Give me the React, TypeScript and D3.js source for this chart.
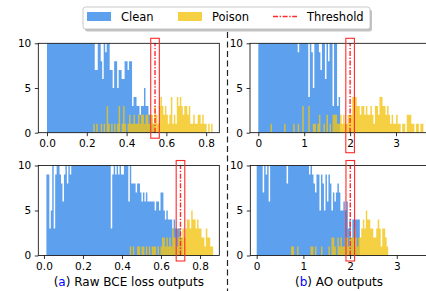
import { useEffect, useRef } from 'react'
import * as d3 from 'd3'

// histogram bin counts; the y axis is clipped at 10
const rawBin = 0.0075
const aoBin = 0.033
const aoBin2 = 0.032

const rawTopClean = [
  24, 31, 28, 35, 30, 27, 33, 29, 26, 31, 28, 25, 30, 27, 24, 29, 26, 23, 27, 25, 22, 24, 21, 19, 22, 20, 18, 17, 19, 16, 14, 13,
  7, 7, 11, 12, 8, 6, 11, 9, 11, 10, 7, 7, 5, 8, 8, 5, 7, 7, 6, 6, 8, 8, 7, 8, 8,
  3, 4, 4, 3, 3, 2, 3, 3, 5, 3, 3, 2, 2, 1, 1,
]
const rawTopPoison = [
  1, 0, 1, 0, 0, 1, 0, 1, 0, 3,
  1, 0, 1, 0, 1, 0, 1, 3, 0, 1,
  3, 1, 0, 1, 2, 1, 1, 2, 1, 1,
  2, 1, 2, 2, 1, 2, 2, 1, 2, 2,
  1, 3, 2, 1, 3, 4, 3, 2, 3, 2,
  1, 2, 4, 1, 2, 1, 4, 3, 4, 3,
  2, 3, 3, 2, 3, 1, 1, 2, 1, 1,
  2, 2, 1, 2, 1, 1, 0, 1, 0, 1,
]
const aoTopClean = [
  30, 42, 55, 61, 70, 66, 74, 79, 72, 68, 75, 70, 64, 66, 59, 62, 55, 51, 48, 44, 40, 37, 33, 30, 27,
  12, 9, 12, 14, 11, 13, 12, 11, 4, 11, 9, 5, 12, 11, 13, 9, 7, 11, 12, 6, 11, 8, 12, 11, 3, 12, 11, 3, 4,
]
const aoTopPoison = [
  1, 0, 0, 0, 0, 0, 0, 0, 0, 1,
  0, 0, 0, 0, 0, 1, 0, 0, 1, 0,
  0, 3, 0, 0, 0, 3, 0, 0,
  1, 1, 0, 1, 2, 0, 0, 1, 0, 2,
  0, 1, 0, 2, 2, 2, 1, 1, 2, 1,
  2, 1, 1, 2, 2, 2, 4, 4, 4, 3,
  3, 2, 3, 3, 2, 3, 2, 2, 3, 2,
  1, 3, 3, 2, 4, 4, 3, 3, 2, 3,
  2, 1, 2, 1, 1, 2, 1, 1, 0, 1,
  1, 0, 2, 2, 2, 1, 1, 0, 1, 1,
  0, 1, 1,
]
const rawBottomClean = [
  9, 9, 3, 5, 11, 3, 9, 12, 10, 9, 8, 6, 9, 11, 8, 12, 9, 11,
  13, 15, 14, 17, 16, 18, 15, 19, 17, 16, 18, 20, 17, 19, 16, 18, 17, 15, 16, 14, 15, 13, 14, 12, 13, 12,
  3, 9, 11, 9, 10, 9, 11, 9, 9, 11,
  10, 12, 6, 10, 8, 8, 8, 7, 8, 8,
  7, 6, 7, 6, 7, 6, 6, 6, 6, 6,
  5, 6, 6, 5, 7, 7, 5, 4, 5, 4,
  4, 4, 3, 4, 3, 3, 3, 3, 2,
]
const rawBottomPoison = [
  0, 1, 0, 1, 0, 0, 1, 1, 0, 1,
  1, 0, 1, 0, 1, 0, 1, 1, 1, 0,
  1, 0, 1, 2, 2, 1, 2, 1, 2, 1,
  3, 2, 2, 1, 2, 3, 2, 3, 2, 3,
  4, 4, 3, 5, 4, 4, 3, 4, 3, 3,
  2, 2, 1, 3, 2, 2, 1, 1,
]
const aoBottomClean = [
  34, 29, 31, 26, 7, 11, 9, 12, 6, 11,
  14, 12, 15, 13, 16, 14, 13, 15, 12, 14,
  8, 11, 13, 15, 12, 14, 16, 13, 12, 14, 13, 11, 12, 13, 11,
  9, 11, 9, 8, 7, 9, 9, 5, 9, 8,
  5, 9, 6, 9, 8, 5, 7, 6, 7, 8,
  7, 5, 5, 6, 5, 6, 3, 4, 2, 4,
  4, 4, 4, 4,
]
const aoBottomPoison = [
  1, 1, 0, 0, 1, 0, 0, 0, 0, 0,
  0, 0, 0, 1, 1, 0, 1, 0, 0, 0,
  1, 0, 0, 0, 0, 1, 0, 2, 2, 1,
  0, 2, 1, 2, 1, 1, 2, 2, 1, 2,
  2, 2, 3, 2, 1, 2, 2, 3, 4, 3,
  5, 4, 4, 3, 3, 2, 2, 3, 4, 3,
  1, 3, 3, 2, 1,
]

const rawTicks = [0, 0.2, 0.4, 0.6, 0.8]
const aoTicks = [0, 1, 2, 3]
const yTicks = [0, 5, 10]
const thresholds = [0.543, 2.0, 0.70, 2.004]
const legendLabels = ['Clean', 'Poison', 'Threshold']

const CLEAN = '#5da0ed'
const POISON = '#f2c413'
const RED = '#ff2b2b'
const FONT = 'DejaVu Sans, sans-serif'

const panels = [
  { clean: rawTopClean, cleanStart: 0, poison: rawTopPoison, poisonStart: 0.2325, bin: rawBin,
    ticks: rawTicks, fmt: d3.format('.1f'), frame: [38.3, 219.3, 43.3, 132.7], domain: [-0.0437, 0.866], drop: 5.5 },
  { clean: aoTopClean, cleanStart: 0, poison: aoTopPoison, poisonStart: 0.264, bin: aoBin,
    ticks: aoTicks, fmt: d3.format('d'), frame: [250, 432, 43.3, 132.7], domain: [-0.181, 3.784], drop: 20 },
  { clean: rawBottomClean, cleanStart: 0.0125, poison: rawBottomPoison, poisonStart: 0.4325, bin: rawBin,
    ticks: rawTicks, fmt: d3.format('.1f'), frame: [38.3, 219.3, 165.5, 255.5], domain: [-0.029, 0.899], drop: 5.5 },
  { clean: aoBottomClean, cleanStart: 0, poison: aoBottomPoison, poisonStart: 0.736, bin: aoBin2,
    ticks: aoTicks, fmt: d3.format('d'), frame: [250.3, 432, 165.5, 255.5], domain: [-0.137, 3.754], drop: 5.5 },
]

export default function App() {
  const svgRef = useRef<SVGSVGElement>(null)

  useEffect(() => {
    if (!svgRef.current) return
    const svg = d3.select(svgRef.current)
    svg.selectAll('*').remove()

    panels.forEach((p, idx) => {
      const [left, right, top, bottom] = p.frame
      const x = d3.scaleLinear().domain(p.domain).range([left, right])
      const y = d3.scaleLinear().domain([0, 10]).range([bottom, top])
      const g = svg.append('g')

      const clipId = `clip${idx}`
      svg.append('clipPath').attr('id', clipId)
        .append('rect').attr('x', left).attr('y', top).attr('width', right - left).attr('height', bottom - top)

      const area = d3.area<[number, number]>()
        .x(d => x(d[0]))
        .y0(y(0))
        .y1(d => y(Math.min(d[1], 10)))
        .curve(d3.curveStepAfter)

      const toPoints = (counts: number[], start: number): [number, number][] => {
        const pts = counts.map((c, i) => [start + i * p.bin, c] as [number, number])
        pts.push([start + counts.length * p.bin, counts[counts.length - 1]])
        return pts
      }

      const hist = g.append('g').attr('clip-path', `url(#${clipId})`)
      hist.append('path').datum(toPoints(p.clean, p.cleanStart)).attr('fill', CLEAN).attr('d', area)
      hist.append('path').datum(toPoints(p.poison, p.poisonStart)).attr('fill', POISON)
        .attr('fill-opacity', 0.8).attr('d', area)

      const tx = x(thresholds[idx])
      g.append('line')
        .attr('x1', tx).attr('x2', tx).attr('y1', y(0)).attr('y2', y(10))
        .attr('stroke', RED).attr('stroke-width', 1.4).attr('stroke-dasharray', '5,1.6,1.4,1.6')

      // frame
      g.append('rect')
        .attr('x', left).attr('y', top).attr('width', right - left).attr('height', bottom - top)
        .attr('fill', 'none').attr('stroke', '#000').attr('stroke-width', 0.8)

      const xAxis = g.append('g').attr('transform', `translate(0,${bottom})`)
        .call(d3.axisBottom(x).tickValues(p.ticks).tickSize(3.5).tickPadding(3.5)
          .tickFormat(d => p.fmt(d as number)))
      const yAxis = g.append('g').attr('transform', `translate(${left},0)`)
        .call(d3.axisLeft(y).tickValues(yTicks).tickSize(3.5).tickPadding(3.5))
      for (const ax of [xAxis, yAxis]) {
        ax.select('.domain').remove()
        ax.selectAll('line').attr('stroke', '#000').attr('stroke-width', 0.8)
        ax.selectAll('text').attr('fill', '#000').style('font-family', FONT).style('font-size', '10.5px')
      }

      // highlight box around the threshold
      g.append('rect')
        .attr('x', tx - 4.3).attr('y', top - 5).attr('width', 8.6).attr('height', bottom - top + 5 + p.drop)
        .attr('fill', 'none').attr('stroke', RED).attr('stroke-width', 1.1)
    })

    // dashed separator between columns
    svg.append('line')
      .attr('x1', 227.5).attr('x2', 227.5).attr('y1', 32).attr('y2', 291)
      .attr('stroke', '#222').attr('stroke-width', 1.2).attr('stroke-dasharray', '6,3.5')

    // legend
    const lg = svg.append('g')
    lg.append('rect').attr('x', 85).attr('y', 9.5).attr('width', 287).attr('height', 22).attr('rx', 2.5)
      .attr('fill', '#888').attr('opacity', 0.5)
    lg.append('rect').attr('x', 83).attr('y', 7).attr('width', 287).attr('height', 22).attr('rx', 2.5)
      .attr('fill', '#fff').attr('stroke', '#bbb').attr('stroke-width', 0.8)
    const entryX = [87, 178, 273]
    legendLabels.forEach((label, i) => {
      const ex = entryX[i]
      if (i < 2) {
        lg.append('rect').attr('x', ex).attr('y', 12).attr('width', 24).attr('height', 9)
          .attr('fill', i === 0 ? CLEAN : POISON).attr('fill-opacity', i === 0 ? 1 : 0.8)
      } else {
        lg.append('line').attr('x1', ex).attr('x2', ex + 24).attr('y1', 16.5).attr('y2', 16.5)
          .attr('stroke', RED).attr('stroke-width', 1.4).attr('stroke-dasharray', '5,1.6,1.4,1.6')
      }
      lg.append('text').attr('x', ex + 34).attr('y', 20.7).text(label)
        .style('font-family', FONT).style('font-size', '11.5px').attr('fill', '#000')
    })

    // captions
    const captions = [
      { x: 128.8, letter: 'a', rest: ') Raw BCE loss outputs' },
      { x: 339, letter: 'b', rest: ') AO outputs' },
    ]
    captions.forEach(c => {
      const t = svg.append('text').attr('x', c.x).attr('y', 286).attr('text-anchor', 'middle')
        .style('font-family', FONT).style('font-size', '12px').attr('fill', '#000')
      t.append('tspan').text('(')
      t.append('tspan').text(c.letter).attr('fill', '#0000ff')
      t.append('tspan').text(c.rest)
    })
  }, [])

  return (
    <svg
      ref={svgRef}
      width={426}
      height={291}
      style={{ position: 'absolute', left: 0, top: 0, background: '#fff' }}
    />
  )
}
